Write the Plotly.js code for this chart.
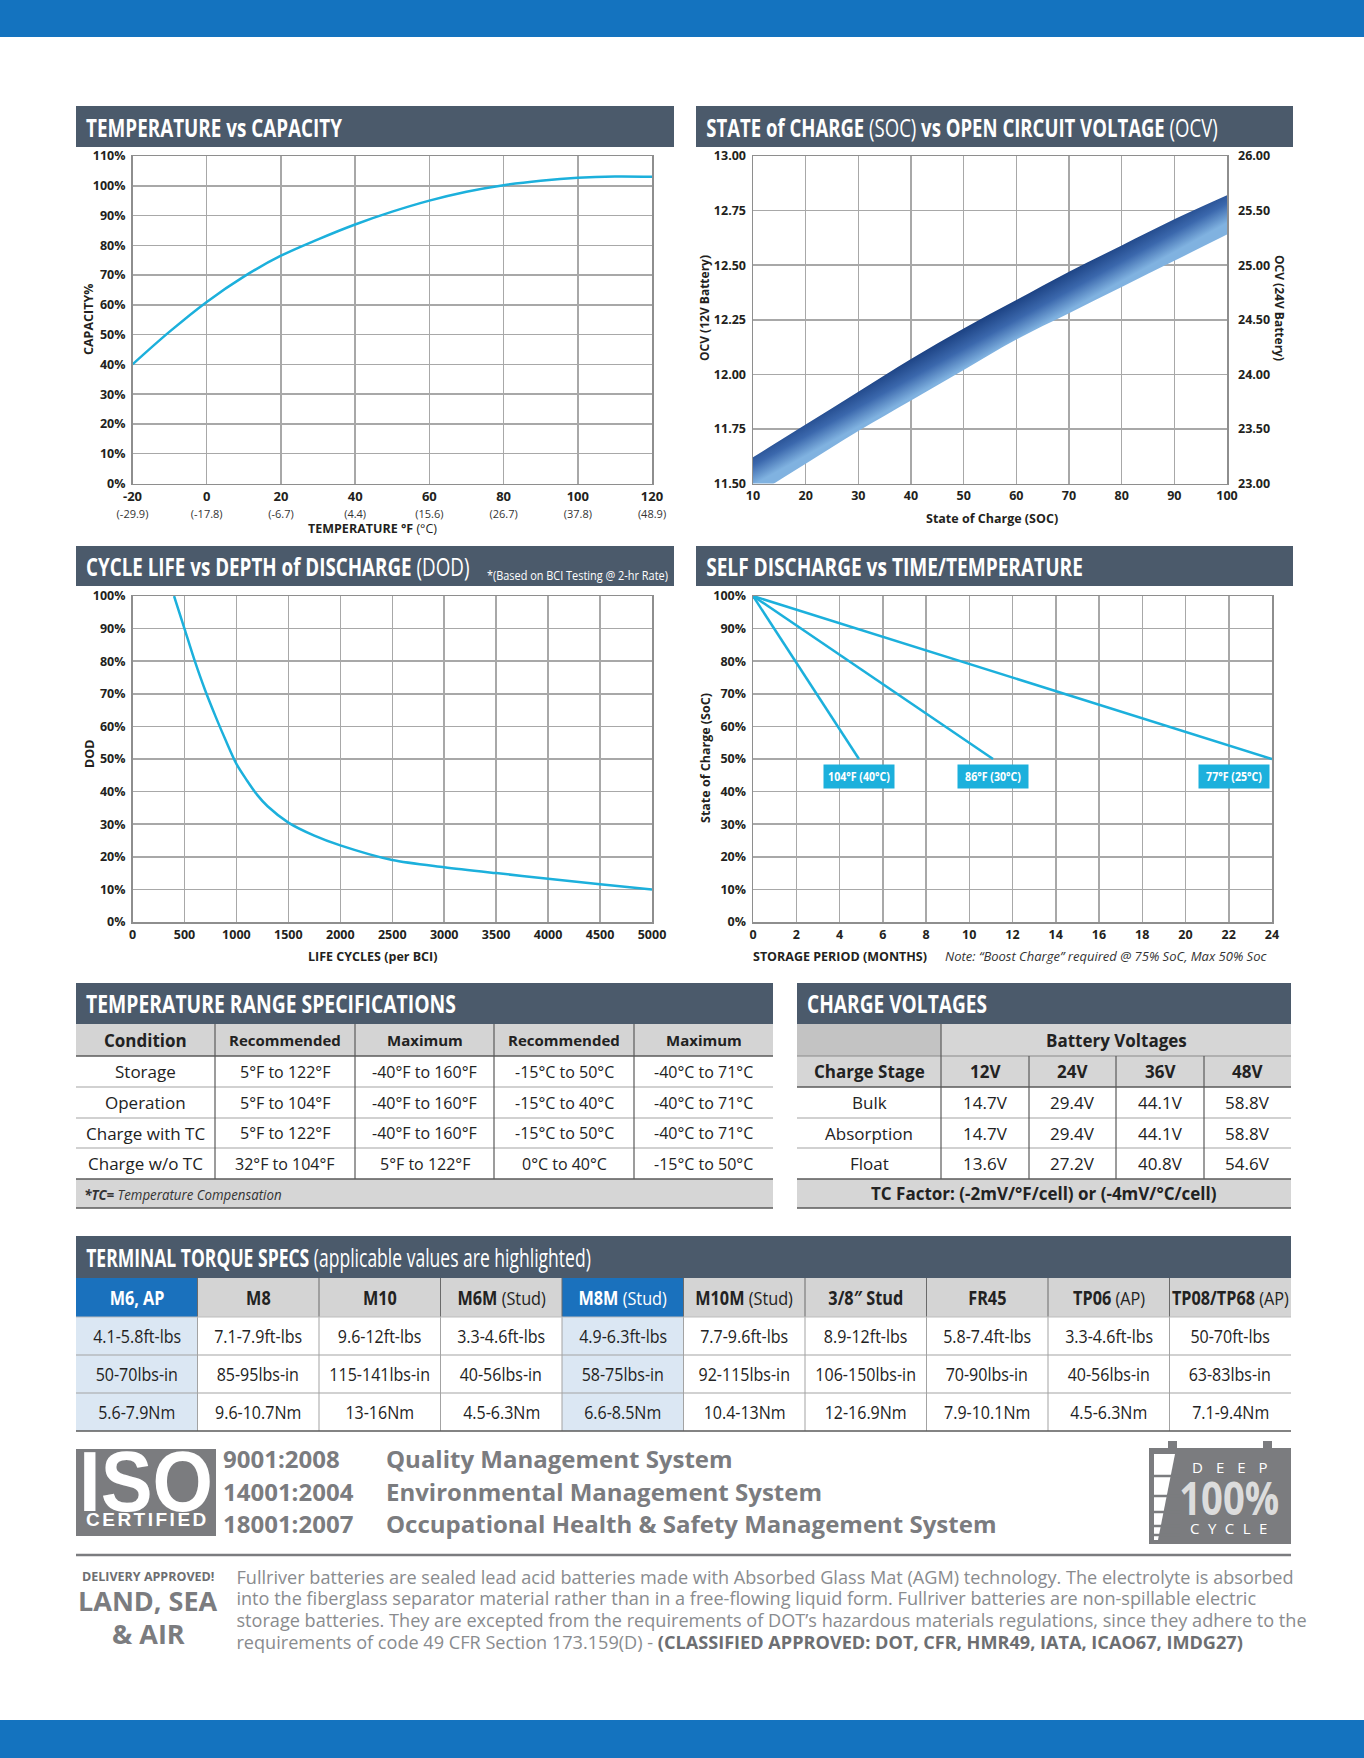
<!DOCTYPE html>
<html><head><meta charset="utf-8">
<script src="https://cdn.plot.ly/plotly-3.0.1.min.js"></script>
<style>html,body{margin:0;padding:0;background:#fff}#page{width:1364px;height:1758px}</style>
</head><body><div id="page"></div>
<script>
// ================= DATA =================
// Temperature vs Capacity
const capTempF = [-20, -10, 0, 10, 20, 30, 40, 50, 60, 70, 80, 90, 100, 110, 120];
const capPct   = [40, 51, 61, 69.5, 76.5, 82, 87, 91.3, 95, 98, 100.2, 101.7, 102.7, 103.1, 103];
const tempTickF = [-20, 0, 20, 40, 60, 80, 100, 120];
const tempTickC = ['(-29.9)', '(-17.8)', '(-6.7)', '(4.4)', '(15.6)', '(26.7)', '(37.8)', '(48.9)'];

// State of charge vs OCV (band)
const socPct   = [10, 20, 30, 40, 50, 60, 70, 80, 90, 100];
const ocvUpper = [11.62, 11.77, 11.92, 12.07, 12.21, 12.34, 12.47, 12.59, 12.71, 12.82];
const ocvLower = [11.44, 11.59, 11.74, 11.88, 12.02, 12.16, 12.28, 12.40, 12.52, 12.64];

// Cycle life vs DOD
const lifeCycles = [400, 500, 600, 700, 800, 900, 1000, 1100, 1200, 1300, 1500, 1750, 2000, 2500, 3000, 3500, 4000, 4500, 5000];
const dodPct     = [100, 90, 80, 71, 63, 55.5, 48.5, 43.5, 39, 35.5, 30.5, 26.5, 23.5, 19, 16.8, 15, 13.3, 11.6, 10];

// Self discharge vs time/temperature
const months104 = [0, 4.9];  const soc104 = [100, 50];
const months86  = [0, 11.1]; const soc86  = [100, 50];
const months77  = [0, 24];   const soc77  = [100, 50];
const sdLabels  = ['104°F (40°C)', '86°F (30°C)', '77°F (25°C)'];

// Temperature range specifications
const trHeaders   = ['Condition', 'Recommended', 'Maximum', 'Recommended', 'Maximum'];
const trCondition = ['Storage', 'Operation', 'Charge with TC', 'Charge w/o TC'];
const trRecF = ['5°F to 122°F', '5°F to 104°F', '5°F to 122°F', '32°F to 104°F'];
const trMaxF = ['-40°F to 160°F', '-40°F to 160°F', '-40°F to 160°F', '5°F to 122°F'];
const trRecC = ['-15°C to 50°C', '-15°C to 40°C', '-15°C to 50°C', '0°C to 40°C'];
const trMaxC = ['-40°C to 71°C', '-40°C to 71°C', '-40°C to 71°C', '-15°C to 50°C'];
const trNote = ['*TC=', ' Temperature Compensation'];

// Charge voltages
const cvHeaders = ['Charge Stage', '12V', '24V', '36V', '48V'];
const cvStages = ['Bulk', 'Absorption', 'Float'];
const cv12 = ['14.7V', '14.7V', '13.6V'];
const cv24 = ['29.4V', '29.4V', '27.2V'];
const cv36 = ['44.1V', '44.1V', '40.8V'];
const cv48 = ['58.8V', '58.8V', '54.6V'];
const cvGroup = 'Battery Voltages';
const cvTC = 'TC Factor: (-2mV/°F/cell) or (-4mV/°C/cell)';

// Terminal torque specs
const tqTerminals = ['M6, AP', 'M8', 'M10', 'M6M', 'M8M', 'M10M', '3/8″ Stud', 'FR45', 'TP06', 'TP08/TP68'];
const tqNotes     = ['', '', '', '(Stud)', '(Stud)', '(Stud)', '', '', '(AP)', '(AP)'];
const tqHighlight = [true, false, false, false, true, false, false, false, false, false];
const tqFtLbs = ['4.1-5.8ft-lbs', '7.1-7.9ft-lbs', '9.6-12ft-lbs', '3.3-4.6ft-lbs', '4.9-6.3ft-lbs', '7.7-9.6ft-lbs', '8.9-12ft-lbs', '5.8-7.4ft-lbs', '3.3-4.6ft-lbs', '50-70ft-lbs'];
const tqLbsIn = ['50-70lbs-in', '85-95lbs-in', '115-141lbs-in', '40-56lbs-in', '58-75lbs-in', '92-115lbs-in', '106-150lbs-in', '70-90lbs-in', '40-56lbs-in', '63-83lbs-in'];
const tqNm    = ['5.6-7.9Nm', '9.6-10.7Nm', '13-16Nm', '4.5-6.3Nm', '6.6-8.5Nm', '10.4-13Nm', '12-16.9Nm', '7.9-10.1Nm', '4.5-6.3Nm', '7.1-9.4Nm'];

// ISO & footer text
const isoCodes  = ['9001:2008', '14001:2004', '18001:2007'];
const isoNames  = ['Quality Management System', 'Environmental Management System', 'Occupational Health & Safety Management System'];
const deliveryLines = [
  'Fullriver batteries are sealed lead acid batteries made with Absorbed Glass Mat (AGM) technology.  The electrolyte is absorbed',
  'into the fiberglass separator material rather than in a free-flowing liquid form. Fullriver batteries are non-spillable electric',
  'storage batteries.  They are excepted from the requirements of DOT’s hazardous materials regulations, since they adhere to the',
  'requirements of code 49 CFR Section 173.159(D) - '
];
const deliveryBold = '(CLASSIFIED APPROVED: DOT, CFR, HMR49, IATA, ICAO67, IMDG27)';

// ================= STYLE / LAYOUT HELPERS =================
const W = 1364, H = 1758;
const X = p => p / W;
const Y = p => 1 - p / H;
const FONT_BODY = "'Open Sans', 'Noto Sans', 'DejaVu Sans', sans-serif";
const FONT_ARIAL = "'Liberation Sans', 'Arial', sans-serif";
const INK = '#231f20', SLATE = '#4b5a6b', CYAN = '#1cb0dc', GRID = '#a8a8a8', GREY = '#7b7c7f';
const DARKLINE = '#5a5a5a', LIGHTLINE = '#a3a3a3';

const ctx = document.createElement('canvas').getContext('2d');
function tw(t, family, size, weight, style) {
  ctx.font = `${style || 'normal'} ${weight || 'normal'} ${size}px ${family}`;
  return ctx.measureText(t).width;
}
function box(x0, y0, x1, y1, fill, extra) {
  return Object.assign({type: 'rect', xref: 'paper', yref: 'paper', x0: X(x0), x1: X(x1), y0: Y(y1), y1: Y(y0),
    fillcolor: fill, line: {width: 0}, layer: 'below'}, extra || {});
}
function hline(x0, x1, y, color, width) {
  return {type: 'line', xref: 'paper', yref: 'paper', x0: X(x0), x1: X(x1), y0: Y(y), y1: Y(y), line: {color, width}, layer: 'above'};
}
function vline(x, y0, y1, color, width) {
  return {type: 'line', xref: 'paper', yref: 'paper', x0: X(x), x1: X(x), y0: Y(y0), y1: Y(y1), line: {color, width}, layer: 'above'};
}
function poly(pts, fill) {
  return {type: 'path', xref: 'paper', yref: 'paper', path: 'M' + pts.map(p => X(p[0]) + ',' + Y(p[1])).join(' L') + ' Z',
    fillcolor: fill, line: {width: 0}, layer: 'above'};
}
const annotations = [];
const squeeze = [];
function txt(text, x, y, opt) {
  opt = opt || {};
  const a = {xref: 'paper', yref: 'paper', x: X(x), y: Y(y), text, showarrow: false,
    xanchor: opt.xanchor || 'left', yanchor: 'middle',
    font: {family: opt.family || FONT_BODY, size: opt.size || 13, color: opt.color || INK,
      weight: opt.weight || 'normal', style: opt.style || 'normal'}};
  if (opt.textangle !== undefined) a.textangle = opt.textangle;
  annotations.push(a);
  if (opt.sx && opt.sx < 0.999) {
    const o = a.xanchor === 'left' ? '0% 50%' : a.xanchor === 'right' ? '100% 50%' : '50% 50%';
    squeeze.push({i: annotations.length - 1, sx: opt.sx, origin: o});
  }
  return a;
}

// ================= AXES =================
const tickF = {family: FONT_BODY, size: 12.5, color: INK, weight: 'bold'};
function ax(extra) {
  return Object.assign({showgrid: true, gridcolor: GRID, gridwidth: 1.5, zeroline: false,
    showline: true, linecolor: '#8e8e8e', linewidth: 1.5, mirror: true, ticks: '',
    tickfont: tickF, fixedrange: true, ticklabelstandoff: 3}, extra);
}
const row1 = [Y(483.5), Y(156)], row2 = [Y(922), Y(596)];
const layout = {
  width: W, height: H, margin: {l: 0, r: 0, t: 0, b: 0}, paper_bgcolor: '#fff', plot_bgcolor: '#fff', showlegend: false,
  xaxis: ax({domain: [X(132.5), X(652)], range: [-20, 120], anchor: 'y', tickvals: tempTickF, ticklabelstandoff: 0,
    ticktext: tempTickF.map((f, i) => `<b>${f}</b><br><span style="font-size:11px;fill:#333">${tempTickC[i]}</span>`),
    tickfont: {family: FONT_BODY, size: 13, color: INK}}),
  yaxis: ax({domain: row1, range: [0, 110], dtick: 10, ticksuffix: '%', anchor: 'x'}),
  xaxis2: ax({domain: [X(753), X(1227)], range: [10, 100], dtick: 10, anchor: 'y2', ticklabelstandoff: 0}),
  yaxis2: ax({domain: row1, range: [11.5, 13], dtick: 0.25, tickformat: '.2f', anchor: 'x2'}),
  yaxis3: ax({domain: row1, range: [23, 26], dtick: 0.5, tickformat: '.2f', anchor: 'x2', overlaying: 'y2', side: 'right', showgrid: false, ticklabelstandoff: 7}),
  xaxis3: ax({domain: [X(132.5), X(652)], range: [0, 5000], dtick: 500, anchor: 'y4', ticklabelstandoff: 0}),
  yaxis4: ax({domain: row2, range: [0, 100], dtick: 10, ticksuffix: '%', anchor: 'x3'}),
  xaxis4: ax({domain: [X(753), X(1272)], range: [0, 24], dtick: 2, anchor: 'y5', ticklabelstandoff: 0}),
  yaxis5: ax({domain: row2, range: [0, 100], dtick: 10, ticksuffix: '%', anchor: 'x4'})
};

// ================= TRACES =================
const lineStyle = {color: CYAN, width: 2.5};
const traces = [
  {type: 'scatter', mode: 'lines', x: capTempF, y: capPct, xaxis: 'x', yaxis: 'y', line: Object.assign({shape: 'spline', smoothing: 1}, lineStyle), hoverinfo: 'skip'},
  {type: 'scatter', mode: 'lines', x: socPct, y: ocvLower, xaxis: 'x2', yaxis: 'y2', line: {width: 0, shape: 'spline'}, hoverinfo: 'skip'},
  {type: 'scatter', mode: 'lines', x: socPct, y: ocvUpper, xaxis: 'x2', yaxis: 'y2', line: {width: 0, shape: 'spline'}, fill: 'tonexty',
    fillcolor: '#3f6db0', fillgradient: {type: 'vertical', colorscale: [[0, '#8cbde6'], [1, '#1d4586']]}, hoverinfo: 'skip'},
  // carrier for the right-hand 24V axis (no marks)
  {type: 'scatter', mode: 'lines', x: [], y: [], xaxis: 'x2', yaxis: 'y3', hoverinfo: 'skip'},
  {type: 'scatter', mode: 'lines', x: lifeCycles, y: dodPct, xaxis: 'x3', yaxis: 'y4', line: Object.assign({shape: 'spline', smoothing: 0.8}, lineStyle), hoverinfo: 'skip'},
  {type: 'scatter', mode: 'lines', x: months104, y: soc104, xaxis: 'x4', yaxis: 'y5', line: lineStyle, hoverinfo: 'skip'},
  {type: 'scatter', mode: 'lines', x: months86, y: soc86, xaxis: 'x4', yaxis: 'y5', line: lineStyle, hoverinfo: 'skip'},
  {type: 'scatter', mode: 'lines', x: months77, y: soc77, xaxis: 'x4', yaxis: 'y5', line: lineStyle, hoverinfo: 'skip'}
];

// ================= SHAPES (frame) =================
const shapes = [
  box(0, 0, W, 37, '#1473bf'), box(0, 1720, W, H, '#1473bf'),
  box(76, 106, 674, 147, SLATE), box(696, 106, 1293, 147, SLATE),
  box(76, 546, 674, 586, SLATE), box(696, 546, 1293, 586, SLATE),
  box(76, 983, 773, 1024, SLATE), box(797, 983, 1291, 1024, SLATE),
  box(76, 1236, 1291, 1278, SLATE),
  box(76, 1449, 216, 1536, GREY),
  hline(76, 1291, 1555, GREY, 2.5),
  box(1149, 1448, 1291, 1544, GREY), box(1168, 1441, 1177, 1449, GREY), box(1263, 1441, 1272, 1449, GREY),
  poly([[1154, 1454], [1175, 1454], [1158, 1540], [1154, 1540]], '#ffffff')
];
[1476, 1496, 1512, 1526, 1535].forEach(y => shapes.push(hline(1151, 1180, y, GREY, 2.5)));

// ================= TITLES =================
function title(html, plain, x, y, target) {
  const size = 25;
  const w = tw(plain, FONT_BODY, size, 'bold');
  txt(html, x, y, {size, color: '#fff', weight: 'normal', sx: Math.min(1, target / w)});
}
title('<b>TEMPERATURE vs CAPACITY</b>', 'TEMPERATURE vs CAPACITY', 84, 127, 256);
title('<b>STATE of CHARGE</b> (SOC) <b>vs OPEN CIRCUIT VOLTAGE</b> (OCV)', 'STATE of CHARGE (SOC) vs OPEN CIRCUIT VOLTAGE (OCV)', 704, 127, 517);
title('<b>CYCLE LIFE vs DEPTH of DISCHARGE</b> (DOD)', 'CYCLE LIFE vs DEPTH of DISCHARGE (DOD)', 84, 566, 386);
title('<b>SELF DISCHARGE vs TIME/TEMPERATURE</b>', 'SELF DISCHARGE vs TIME/TEMPERATURE', 704, 566, 377);
title('<b>TEMPERATURE RANGE SPECIFICATIONS</b>', 'TEMPERATURE RANGE SPECIFICATIONS', 84, 1003, 370);
title('<b>CHARGE VOLTAGES</b>', 'CHARGE VOLTAGES', 805, 1003, 180);
title('<b>TERMINAL TORQUE SPECS</b> (applicable values are highlighted)', 'TERMINAL TORQUE SPECS (applicable values are highlighted)', 84, 1257, 528);
const bciNote = '*(Based on BCI Testing @ 2-hr Rate)';
txt(bciNote, 670, 575, {xanchor: 'right', size: 12, color: '#fff', sx: Math.min(1, 181 / tw(bciNote, FONT_BODY, 12))});

// ================= AXIS TITLES =================
txt('<b>CAPACITY%</b>', 89, 320, {xanchor: 'center', size: 12.5, textangle: -90});
txt('<b>TEMPERATURE °F</b> (°C)', 372, 528, {xanchor: 'center', size: 12.5});
txt('<b>OCV (12V Battery)</b>', 705, 308, {xanchor: 'center', size: 12, textangle: -90});
txt('<b>OCV (24V Battery)</b>', 1279, 308, {xanchor: 'center', size: 12, textangle: 90});
txt('<b>State of Charge (SOC)</b>', 992, 518, {xanchor: 'center', size: 12.5});
txt('<b>DOD</b>', 89, 754, {xanchor: 'center', size: 12.5, textangle: -90});
txt('<b>LIFE CYCLES (per BCI)</b>', 372, 956, {xanchor: 'center', size: 12.5});
txt('<b>State of Charge (SoC)</b>', 705, 758, {xanchor: 'center', size: 12.5, textangle: -90});
txt('<b>STORAGE PERIOD (MONTHS)</b>', 751, 956, {size: 12.5});
txt('<i>Note:</i> <i>“Boost Charge” required @ 75% SoC, Max 50% Soc</i>', 943, 956, {size: 13, color: '#333',
  sx: Math.min(1, 327 / tw('Note: “Boost Charge” required @ 75% SoC, Max 50% Soc', FONT_BODY, 13, 'normal', 'italic'))});

// chart 4 line labels
const sdEnds = [months104[1], months86[1], months77[1]];
const sdSx = Math.min(1, 62 / tw(sdLabels[0], FONT_BODY, 12.5, 'bold'));
sdLabels.forEach((lab, i) => {
  annotations.push({xref: 'x4', yref: 'y5', x: sdEnds[i], y: 50, yanchor: 'top', yshift: -5,
    xanchor: i === 2 ? 'right' : 'center', xshift: i === 2 ? -2 : 0, text: `<b>${lab}</b>`, showarrow: false,
    bgcolor: CYAN, borderpad: 3, width: 64, font: {family: FONT_BODY, size: 12.5, color: '#fff'}});
  squeeze.push({i: annotations.length - 1, sx: sdSx, origin: '50% 50%'});
});

// ================= TABLE: TEMPERATURE RANGE =================
const trCols = [76, 215, 355, 494, 634, 773];
const trRows = [1024, 1056, 1087, 1118, 1148, 1179];
shapes.push(box(76, 1024, 773, 1056, '#d4d4d4'));
trHeaders.forEach((h, j) => txt(`<b>${h}</b>`, (trCols[j] + trCols[j + 1]) / 2, (trRows[0] + trRows[1]) / 2,
  {xanchor: 'center', size: j === 0 ? 17 : 15, color: '#222'}));
[trCondition, trRecF, trMaxF, trRecC, trMaxC].forEach((col, j) => col.forEach((v, r) =>
  txt(v, (trCols[j] + trCols[j + 1]) / 2, (trRows[r + 1] + trRows[r + 2]) / 2, {xanchor: 'center', size: j === 0 ? 17 : 16, color: '#222'})));
shapes.push(hline(76, 773, trRows[1], DARKLINE, 1.3));
[2, 3, 4].forEach(r => shapes.push(hline(76, 773, trRows[r], LIGHTLINE, 1)));
shapes.push(hline(76, 773, trRows[5], DARKLINE, 1.5));
[1, 2, 3, 4].forEach(c => shapes.push(vline(trCols[c], 1024, 1179, DARKLINE, 1.2)));
shapes.push(box(76, 1179, 773, 1208, '#d6d6d6'), hline(76, 773, 1208, DARKLINE, 1.5));
txt(`<b><i>${trNote[0]}</i></b><i>${trNote[1]}</i>`, 82, 1194, {size: 14, color: '#333',
  sx: Math.min(1, 197 / tw(trNote.join(''), FONT_BODY, 14, 'normal', 'italic'))});

// ================= TABLE: CHARGE VOLTAGES =================
const cvCols = [797, 941, 1029, 1116, 1204, 1291];
const cvRows = [1024, 1056, 1087, 1118, 1148, 1179, 1208];
shapes.push(box(797, 1024, 941, 1056, '#c3c3c3'), box(941, 1024, 1291, 1056, '#d6d6d6'),
  box(797, 1056, 1291, 1087, '#d6d6d6'), box(797, 1179, 1291, 1208, '#d6d6d6'));
txt(`<b>${cvGroup}</b>`, (cvCols[1] + cvCols[5]) / 2, (cvRows[0] + cvRows[1]) / 2, {xanchor: 'center', size: 17, color: '#222'});
cvHeaders.forEach((h, j) => txt(`<b>${h}</b>`, (cvCols[j] + cvCols[j + 1]) / 2, (cvRows[1] + cvRows[2]) / 2,
  {xanchor: 'center', size: 17, color: '#222'}));
[cvStages, cv12, cv24, cv36, cv48].forEach((col, j) => col.forEach((v, r) =>
  txt(v, (cvCols[j] + cvCols[j + 1]) / 2, (cvRows[r + 2] + cvRows[r + 3]) / 2, {xanchor: 'center', size: 17, color: '#222'})));
txt(`<b>${cvTC}</b>`, (cvCols[0] + cvCols[5]) / 2, (cvRows[5] + cvRows[6]) / 2, {xanchor: 'center', size: 17, color: '#222'});
shapes.push(hline(797, 1291, cvRows[1], '#8a8a8a', 1), hline(797, 1291, cvRows[2], DARKLINE, 1.3),
  hline(797, 1291, cvRows[3], LIGHTLINE, 1), hline(797, 1291, cvRows[4], LIGHTLINE, 1),
  hline(797, 1291, cvRows[5], DARKLINE, 1.5), hline(797, 1291, cvRows[6], DARKLINE, 1.5),
  vline(cvCols[1], cvRows[0], cvRows[5], DARKLINE, 1.2));
[2, 3, 4].forEach(c => shapes.push(vline(cvCols[c], cvRows[1], cvRows[5], DARKLINE, 1.2)));

// ================= TABLE: TERMINAL TORQUE =================
const tqLeft = 76, tqRight = 1291, tqN = tqTerminals.length;
const tqColW = (tqRight - tqLeft) / tqN;
const tqRows = [1278, 1317, 1355, 1393, 1431];
const tqBody = [tqFtLbs, tqLbsIn, tqNm];
const TQ_SIZE = 19;
const tqBodySx = Math.min(1, 88 / tw(tqFtLbs[0], FONT_BODY, TQ_SIZE));
const headW = j => tw(tqTerminals[j], FONT_BODY, TQ_SIZE, 'bold') + (tqNotes[j] ? tw(' ' + tqNotes[j], FONT_BODY, TQ_SIZE) : 0);
const tqHeadSx = Math.min(1, 117 / headW(tqN - 1));
tqTerminals.forEach((t, j) => {
  const x0 = tqLeft + j * tqColW, x1 = x0 + tqColW, xc = (x0 + x1) / 2;
  shapes.push(box(x0, tqRows[0], x1, tqRows[1], tqHighlight[j] ? '#1a71bd' : '#d4d4d4'));
  if (tqHighlight[j]) shapes.push(box(x0, tqRows[1], x1, tqRows[4], '#dbe7f3'));
  const head = `<b>${t}</b>` + (tqNotes[j] ? ' ' + tqNotes[j] : '');
  txt(head, xc, (tqRows[0] + tqRows[1]) / 2, {xanchor: 'center', size: TQ_SIZE, color: tqHighlight[j] ? '#fff' : '#222',
    sx: Math.min(tqHeadSx, (tqColW - 4) / headW(j))});
  tqBody.forEach((rowVals, r) => txt(rowVals[j], xc, (tqRows[r + 1] + tqRows[r + 2]) / 2,
    {xanchor: 'center', size: TQ_SIZE, color: '#222', sx: Math.min(tqBodySx, (tqColW - 4) / tw(rowVals[j], FONT_BODY, TQ_SIZE))}));
  if (j > 0) shapes.push(vline(x0, tqRows[0], tqRows[1], '#6a6a6a', 1), vline(x0, tqRows[1], tqRows[4], LIGHTLINE, 1));
});
[2, 3].forEach(r => shapes.push(hline(tqLeft, tqRight, tqRows[r], LIGHTLINE, 1)));
shapes.push(hline(tqLeft, tqRight, tqRows[1], '#bdbdbd', 1), hline(tqLeft, tqRight, tqRows[4], DARKLINE, 1.5));

// ================= ISO / LOGOS =================
const ISO_SIZE = 86;
txt('<b>ISO</b>', 146, 1481, {xanchor: 'center', family: FONT_ARIAL, size: ISO_SIZE, color: '#fff',
  sx: Math.min(1, 134 / tw('ISO', FONT_ARIAL, ISO_SIZE, 'bold'))});
txt('<b><span style="letter-spacing:2.5px">CERTIFIED</span></b>', 147.5, 1519, {xanchor: 'center', family: FONT_ARIAL, size: 19, color: '#fff'});
const isoY = [1458, 1491, 1523];
isoCodes.forEach((c, i) => {
  txt(`<b>${c}</b>`, 221, isoY[i], {size: 24, color: GREY});
  txt(`<b>${isoNames[i]}</b>`, 384, isoY[i], {size: 24, color: GREY});
});
txt('<span style="letter-spacing:13px">DEEP</span>', 1236, 1467, {xanchor: 'center', size: 15, color: '#fff'});
txt('<b>100%</b>', 1229, 1497, {xanchor: 'center', size: 46, color: '#dcdcdc', sx: Math.min(1, 100 / tw('100%', FONT_BODY, 46, 'bold'))});
txt('<span style="letter-spacing:8.5px">CYCLE</span>', 1233, 1528, {xanchor: 'center', size: 15, color: '#fff'});

// ================= DELIVERY =================
txt('<b>DELIVERY APPROVED!</b>', 148, 1576, {xanchor: 'center', size: 12.5, color: '#6d6e71', sx: Math.min(1, 144 / tw('DELIVERY APPROVED!', FONT_BODY, 12.5, 'bold'))});
txt('<b>LAND, SEA</b>', 148, 1600, {xanchor: 'center', size: 27, color: GREY});
txt('<b>&amp; AIR</b>', 148, 1633, {xanchor: 'center', size: 27, color: GREY});
const parSize = 18.5;
const parSx = Math.min(1, 1071 / tw(deliveryLines[2].replace(/  /g, ' '), FONT_BODY, parSize));
const parY = [1576, 1597, 1619, 1641];
deliveryLines.forEach((l, i) => {
  const t = l.replace(/  /g, ' ') + (i === 3 ? `<b><span style="fill:#6d6e71">${deliveryBold}</span></b>` : '');
  txt(t, 234, parY[i], {size: parSize, color: '#898b8e', sx: parSx});
});

layout.shapes = shapes;
layout.annotations = annotations;

// ================= RENDER =================
function bandGradient(gd) {
  const fl = gd._fullLayout;
  const xa = fl.xaxis2, ya = fl.yaxis2;
  if (!xa || !ya) return;
  const paths = gd.querySelectorAll('path.js-fill');
  if (!paths.length) return;
  const n = socPct.length;
  const dx = xa.l2p(socPct[n - 1]) - xa.l2p(socPct[0]);
  const dy = ya.l2p(ocvUpper[n - 1]) - ya.l2p(ocvUpper[0]);
  const len = Math.hypot(dx, dy);
  const nx = -dy / len, ny = dx / len;
  const m = Math.floor(n / 2);
  const x1 = xa.l2p(socPct[m]), y1 = ya.l2p(ocvUpper[m]);
  const d = (ya.l2p(ocvLower[m]) - y1) * ny;
  const svg = paths[0].ownerSVGElement;
  let defs = svg.querySelector('defs');
  if (!defs) { defs = document.createElementNS('http://www.w3.org/2000/svg', 'defs'); svg.insertBefore(defs, svg.firstChild); }
  let g = svg.querySelector('#bandGradCustom');
  if (g) g.remove();
  g = document.createElementNS('http://www.w3.org/2000/svg', 'linearGradient');
  g.setAttribute('id', 'bandGradCustom');
  g.setAttribute('gradientUnits', 'userSpaceOnUse');
  g.setAttribute('x1', x1); g.setAttribute('y1', y1);
  g.setAttribute('x2', x1 + nx * d); g.setAttribute('y2', y1 + ny * d);
  [['0', '#1d4384'], ['0.5', '#3b68ad'], ['1', '#80b2e0']].forEach(([o, c]) => {
    const s = document.createElementNS('http://www.w3.org/2000/svg', 'stop');
    s.setAttribute('offset', o); s.setAttribute('stop-color', c); g.appendChild(s);
  });
  defs.appendChild(g);
  paths.forEach(p => { p.style.fill = 'url(#bandGradCustom)'; p.style.fillOpacity = 1; });
}
function applySqueeze(gd) {
  squeeze.forEach(q => {
    const grp = gd.querySelector(`.annotation[data-index="${q.i}"]`);
    if (!grp) return;
    grp.querySelectorAll('[clip-path]').forEach(e => e.removeAttribute('clip-path'));
    const t = grp.querySelector('text.annotation-text');
    if (t) {
      t.style.clipPath = 'none';
      t.style.transformBox = 'fill-box';
      t.style.transformOrigin = q.origin;
      t.style.transform = `scaleX(${q.sx})`;
    }
  });
}
const gd = document.getElementById('page');
Plotly.newPlot(gd, traces, layout, {displayModeBar: false, staticPlot: true}).then(() => {
  bandGradient(gd); applySqueeze(gd);
  gd.on('plotly_afterplot', () => { bandGradient(gd); applySqueeze(gd); });
});
</script>
</body></html>
